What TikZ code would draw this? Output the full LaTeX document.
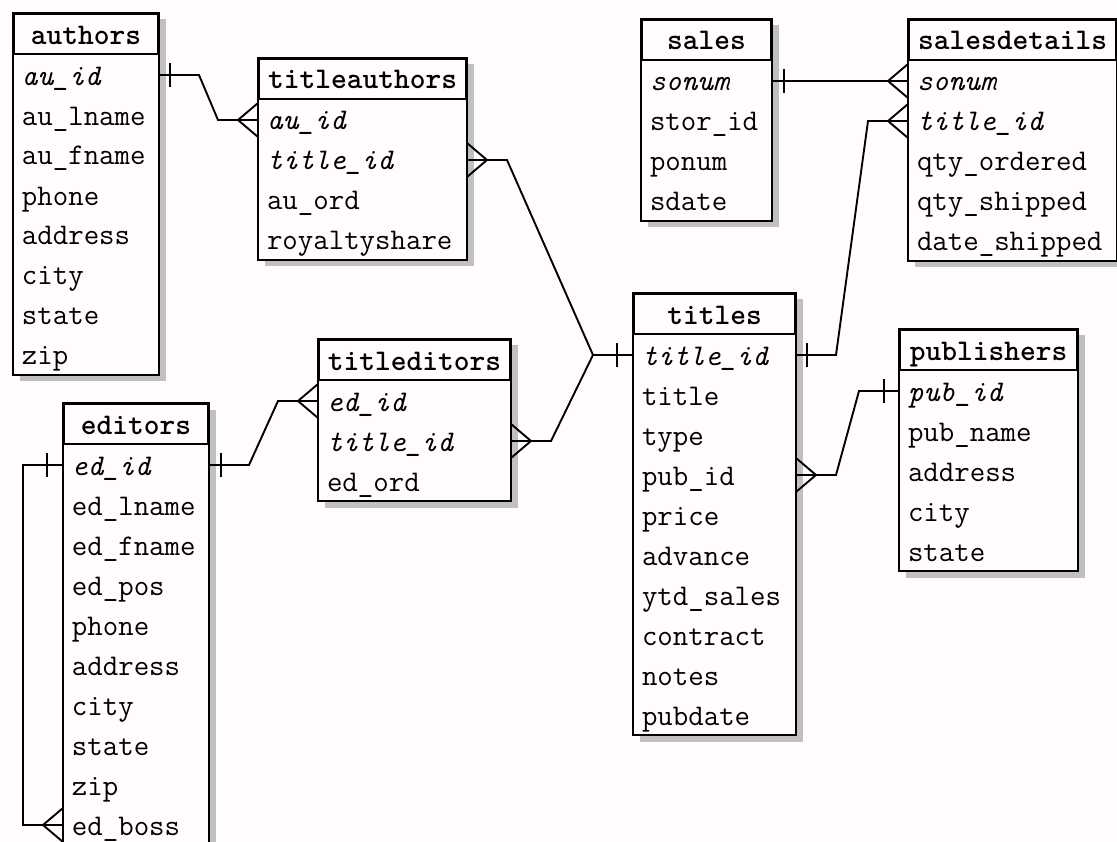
\documentclass[tikz,border=0pt]{standalone}
\usepackage{tikz}
\usetikzlibrary{matrix,positioning,calc,shadows}
\definecolor{paper}{RGB}{255,251,255}
\definecolor{shade}{RGB}{192,192,192}
\newcommand{\tabfont}{\ttfamily\fontsize{30}{30}\selectfont}

\tikzset{
  table/.style={matrix of nodes, draw, line width=2pt, fill=paper,
    inner sep=0pt, row sep=0pt, anchor=north west,
    drop shadow={shadow xshift=6.5pt, shadow yshift=-6.5pt, fill=shade, opacity=1},
    nodes={text width=#1, inner xsep=8pt, inner ysep=0pt, minimum height=40pt,
      text height=24pt, text depth=4pt, align=left, font=\tabfont, anchor=center},
    row 1/.style={nodes={draw, line width=2pt, align=center, font=\tabfont\bfseries}}},
  pkey/.style={font=\tabfont\itshape},
  link/.style={line width=1.9pt},
  onemark/.pic={\draw[link] (0,-12) -- (0,12);},
  manymark/.pic={\draw[link] (0,17) -- (-20,0) -- (0,-17);}
}

\begin{document}
\begin{tikzpicture}[x=1pt,y=-1pt]
  \useasboundingbox[fill=paper] (0,0) rectangle (1117,842);

  % tables
  \matrix (authors) [table=128pt, at={(12,12)}] {
    authors \\
    |[pkey]| au\_id \\
    au\_lname \\
    au\_fname \\
    phone \\
    address \\
    city \\
    state \\
    zip \\
  };
  \matrix (titleauthors) [table=191pt, at={(257,57)}] {
    titleauthors \\
    |[pkey]| au\_id \\
    |[pkey]| title\_id \\
    au\_ord \\
    royaltyshare \\
  };
  \matrix (sales) [table=113pt, at={(640,18)}] {
    sales \\
    |[pkey]| sonum \\
    stor\_id \\
    ponum \\
    sdate \\
  };
  \matrix (salesdetails) [table=191pt, at={(907,18)}] {
    salesdetails \\
    |[pkey]| sonum \\
    |[pkey]| title\_id \\
    qty\_ordered \\
    qty\_shipped \\
    date\_shipped \\
  };
  \matrix (titles) [table=145pt, at={(632,292)}] {
    titles \\
    |[pkey]| title\_id \\
    title \\
    type \\
    pub\_id \\
    price \\
    advance \\
    ytd\_sales \\
    contract \\
    notes \\
    pubdate \\
  };
  \matrix (publishers) [table=161pt, at={(898,328)}] {
    publishers \\
    |[pkey]| pub\_id \\
    pub\_name \\
    address \\
    city \\
    state \\
  };
  \matrix (titleditors) [table=175pt, at={(317,338)}] {
    titleditors \\
    |[pkey]| ed\_id \\
    |[pkey]| title\_id \\
    ed\_ord \\
  };
  \matrix (editors) [table=128pt, at={(62,402)}] {
    editors \\
    |[pkey]| ed\_id \\
    ed\_lname \\
    ed\_fname \\
    ed\_pos \\
    phone \\
    address \\
    city \\
    state \\
    zip \\
    ed\_boss \\
  };

  % relations
  \draw[link] (authors-2-1.east) -- ++(40,0) -- ($(titleauthors-2-1.west)+(-40,0)$) -- (titleauthors-2-1.west);
  \pic at ($(authors-2-1.east)+(11,0)$) {onemark};
  \pic at (titleauthors-2-1.west) {manymark};

  \draw[link] (titleauthors-3-1.east) -- ++(40,0) -- ($(titles-2-1.west)+(-40,0)$) -- (titles-2-1.west);
  \pic[xscale=-1] at (titleauthors-3-1.east) {manymark};
  \pic at ($(titles-2-1.west)+(-16,0)$) {onemark};

  \draw[link] (titleditors-3-1.east) -- ++(40,0) -- ($(titles-2-1.west)+(-40,0)$);
  \pic[xscale=-1] at (titleditors-3-1.east) {manymark};

  \draw[link] (editors-2-1.east) -- ++(40,0) -- ($(titleditors-2-1.west)+(-40,0)$) -- (titleditors-2-1.west);
  \pic at ($(editors-2-1.east)+(12,0)$) {onemark};
  \pic at (titleditors-2-1.west) {manymark};

  \draw[link] (editors-2-1.west) -- ++(-40,0) |- (editors-11-1.west);
  \pic at ($(editors-2-1.west)+(-16,0)$) {onemark};
  \pic at (editors-11-1.west) {manymark};

  \draw[link] (sales-2-1.east) -- (salesdetails-2-1.west);
  \pic at ($(sales-2-1.east)+(12,0)$) {onemark};
  \pic at (salesdetails-2-1.west) {manymark};

  \draw[link] (titles-2-1.east) -- ++(40,0) -- ($(salesdetails-3-1.west)+(-40,0)$) -- (salesdetails-3-1.west);
  \pic at ($(titles-2-1.east)+(11,0)$) {onemark};
  \pic at (salesdetails-3-1.west) {manymark};

  \draw[link] (titles-5-1.east) -- ++(40,0) -- ($(publishers-2-1.west)+(-40,0)$) -- (publishers-2-1.west);
  \pic[xscale=-1] at (titles-5-1.east) {manymark};
  \pic at ($(publishers-2-1.west)+(-15,0)$) {onemark};
\end{tikzpicture}
\end{document}
